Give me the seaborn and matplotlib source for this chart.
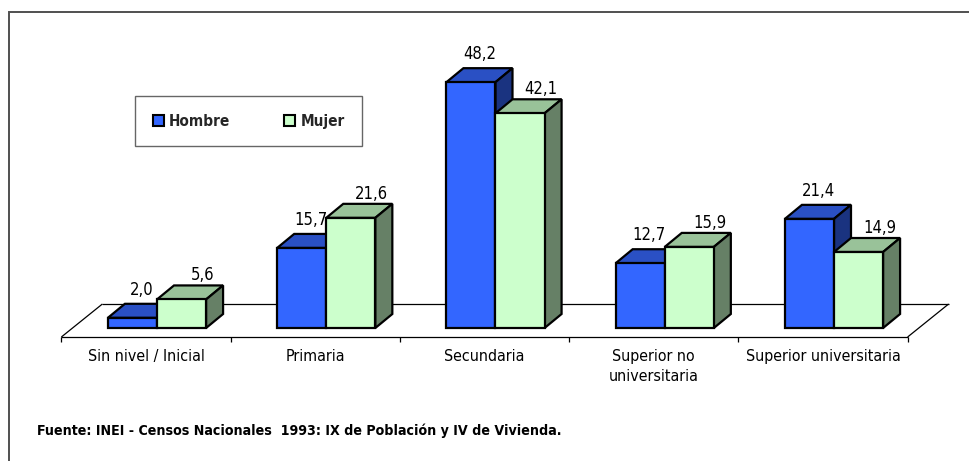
import matplotlib
matplotlib.use("Agg")
import matplotlib.pyplot as plt
import seaborn as sns
import pandas as pd
from matplotlib import font_manager
from matplotlib.patches import Polygon, Patch, Rectangle

# ---------------- data ----------------
categories = ["Sin nivel / Inicial", "Primaria", "Secundaria",
              "Superior no\nuniversitaria", "Superior universitaria"]
series = ["Hombre", "Mujer"]
hombre = [2.0, 15.7, 48.2, 12.7, 21.4]
mujer = [5.6, 21.6, 42.1, 15.9, 14.9]
source = "Fuente: INEI - Censos Nacionales  1993: IX de Población y IV de Vivienda."

front_colors = ["#3366FF", "#CCFFCC"]
top_colors = ["#2A50C4", "#99C299"]
side_colors = ["#1A3380", "#668066"]

# ---------------- fonts ----------------
names = {f.name for f in font_manager.fontManager.ttflist}
if "Liberation Sans Narrow" in names:
    FAM = ["Liberation Sans Narrow", "DejaVu Sans"]
    STRETCH = "normal"
    SC = 1.0
else:
    FAM = ["DejaVu Sans"]
    STRETCH = "condensed"
    SC = 0.88

sns.set_theme(style="white")
plt.rcParams["font.family"] = FAM

df = pd.DataFrame({
    "Nivel": categories * 2,
    "Sexo": [series[0]] * len(categories) + [series[1]] * len(categories),
    "Porcentaje": hombre + mujer,
})

W, H = 970, 461
fig = plt.figure(figsize=(W / 100, H / 100), dpi=100)
fig.patch.set_facecolor("white")
ax = fig.add_axes([0, 0, 1, 1])

# pixel <-> data mapping (front plane of the bars)
X0, SX = 157.0, 169.25
Y0, SY = 328.0, 5.1


def px_x(dpx):
    return dpx / SX


def px_y(dpx):
    return dpx / SY


sns.barplot(data=df, x="Nivel", y="Porcentaje", hue="Sexo",
            palette=front_colors, width=0.58, edgecolor="black",
            linewidth=1.6, saturation=1, legend=False, ax=ax)

ax.set_xlim((0 - X0) / SX, (W - X0) / SX)
ax.set_ylim((Y0 - H) / SY, Y0 / SY)
ax.axis("off")

DX, DY = px_x(17), px_y(14)
n = len(categories)

# floor (parallelogram)
fx, fy = px_x(-11), px_y(-9)
bx, by = px_x(30), px_y(24)
left, right = -0.5, n - 0.5
floor_kw = dict(color="black", lw=0.9, zorder=0.5, solid_capstyle="butt")
ax.plot([left + fx, right + fx], [fy, fy], **floor_kw)
ax.plot([left + bx, right + bx], [by, by], **floor_kw)
ax.plot([left + fx, left + bx], [fy, by], **floor_kw)
ax.plot([right + fx, right + bx], [fy, by], **floor_kw)
for k in range(n + 1):
    xb = -0.5 + k + fx
    ax.plot([xb, xb], [fy, fy - px_y(5)], **floor_kw)

# category labels
for i, lab in enumerate(categories):
    ax.text(i + fx, fy - px_y(12), lab, ha="center", va="top",
            fontsize=13 * SC, color="black", linespacing=1.45,
            family=FAM, fontstretch=STRETCH)

# 3D faces and value labels
label_dx = [9, 21]
label_dy = [28, 24]
for s, cont in enumerate(ax.containers):
    base_z = 1 + 2 * s
    for i, p in enumerate(cont.patches):
        x0, w, h = p.get_x(), p.get_width(), p.get_height()
        top = [(x0, h), (x0 + w, h), (x0 + w + DX, h + DY), (x0 + DX, h + DY)]
        side = [(x0 + w, 0), (x0 + w + DX, DY), (x0 + w + DX, h + DY), (x0 + w, h)]
        for poly, col in ((top, top_colors[s]), (side, side_colors[s])):
            ax.add_patch(Polygon(poly, closed=True, facecolor=col,
                                 edgecolor="black", lw=1.6,
                                 joinstyle="miter", zorder=base_z))
        p.set_zorder(base_z + 1)
        p.set_joinstyle("miter")
        ax.text(x0 + w / 2 + px_x(label_dx[s]), h + px_y(label_dy[s]),
                f"{h:.1f}".replace(".", ","), ha="center", va="center",
                fontsize=13.5 * SC, color="black", family=FAM, fontstretch=STRETCH,
                zorder=10)

# legend
handles = [Patch(facecolor=c, edgecolor="black", lw=1.5) for c in front_colors]
leg = ax.legend(handles, series, loc="upper left", ncol=2,
                bbox_to_anchor=(135 / W, 1 - 96 / H), bbox_transform=fig.transFigure,
                frameon=True, fancybox=False, shadow=False,
                handlelength=0.75, handleheight=0.75, handletextpad=0.35,
                columnspacing=3.5, borderpad=1.15, borderaxespad=0,
                prop=dict(family=FAM, weight="bold", size=12 * SC + 0.4, stretch=STRETCH))
leg.get_frame().set_edgecolor("#404040")
leg.get_frame().set_linewidth(1.0)

# outer frame (only top/left edges visible)
fig.add_artist(Rectangle((9 / W, -0.1), 1.2, 1.1 - 12 / H,
                         transform=fig.transFigure, fill=False,
                         edgecolor="#505050", lw=1.4, zorder=20))

# source note
fig.text(37 / W, 1 - 431 / H, source, ha="left", va="center",
         fontsize=11 * SC + 0.5, fontweight="bold", color="black",
         family=FAM, fontstretch=STRETCH)

fig.savefig("out.png", dpi=100)
